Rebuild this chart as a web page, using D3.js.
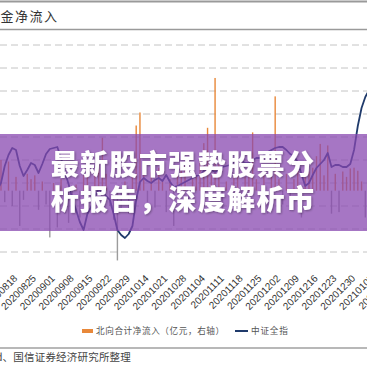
<!DOCTYPE html>
<html>
<head>
<meta charset="utf-8">
<script src="https://cdn.jsdelivr.net/npm/d3@7"></script>
<style>
  html, body { margin: 0; padding: 0; background: #fff; }
  svg { display: block; }
</style>
</head>
<body>
<div id="chart"></div>
<script>
// trading days, the picture is cropped so both ends run off the page
const days = [
  "20200811","20200812","20200813","20200814","20200817",
  "20200818","20200819","20200820","20200821","20200824",
  "20200825","20200826","20200827","20200828","20200831",
  "20200901","20200902","20200903","20200904","20200907",
  "20200908","20200909","20200910","20200911","20200914",
  "20200915","20200916","20200917","20200918","20200921",
  "20200922","20200923","20200924","20200925","20200928",
  "20200929","20200930","20201009","20201012","20201013",
  "20201014","20201015","20201016","20201019","20201020",
  "20201021","20201022","20201023","20201026","20201027",
  "20201028","20201029","20201030","20201102","20201103",
  "20201104","20201105","20201106","20201109","20201110",
  "20201111","20201112","20201113","20201116","20201117",
  "20201118","20201119","20201120","20201123","20201124",
  "20201125","20201126","20201127","20201130","20201201",
  "20201202","20201203","20201204","20201207","20201208",
  "20201209","20201210","20201211","20201214","20201215",
  "20201216","20201217","20201218","20201221","20201222",
  "20201223","20201224","20201225","20201228","20201229",
  "20201230","20201231","20210104","20210105","20210106",
  "20210107","20210108","20210111","20210112","20210113",
  "20210114"
];

// 中证全指 (left axis)
const csiAll = [
  5310, 5352, 5454, 5520, 5562,
  5550, 5454, 5394, 5430, 5472,
  5460, 5412, 5466, 5526, 5556,
  5562, 5568, 5502, 5418, 5346,
  5256, 5190, 5118, 5070, 5166,
  5208, 5268, 5316, 5298, 5274,
  5250, 5166, 5070, 5040, 5022,
  5046, 5094, 5250, 5358, 5382,
  5364, 5352, 5370, 5382, 5364,
  5400, 5358, 5328, 5334, 5346,
  5358, 5370, 5382, 5394, 5400,
  5424, 5442, 5430, 5418, 5430,
  5448, 5454, 5460, 5478, 5490,
  5484, 5472, 5472, 5490, 5502,
  5502, 5520, 5538, 5550, 5562,
  5568, 5568, 5550, 5526, 5514,
  5478, 5406, 5334, 5352, 5400,
  5442, 5466, 5490, 5532, 5448,
  5460, 5460, 5448, 5448, 5466,
  5550, 5694, 5802, 5868, 5910,
  5946, 5980, 6010, 6030, 6050,
  6070
];

// 北向合计净流入 (亿元, right axis)
const northFlow = [
   25,  40, -15,  38, -20,
   18, -46, -12,  22,  15,
   20, -25,  12, -18, -61,
   10, -48,  15, -30, -42,
  -22,   8, -35,  20,  30,
  -15,  25,  35,  69,  22,
  -20, -38, -91, -25,  12,
  -30,  18,  85, 102,  28,
  -15,  24, -22,  30,  12,
  -28,  15, -46,  20,  26,
   32, -18,  28,  18,  40,
   62,  82,  20, 147,  35,
  -25,  12, -20,  22,  30,
  -15,  18,  25,  76,  15,
  -22,  20, -30,  28, 123,
   15, -18,  22, -26,  15,
   39, -35,  18,  25,  30,
   45,  61,  20,  59, -30,
   22, -28,  25,  18,  29,
   30,  26,  12, -35,  20,
   30,  25, -20,  35,  15,
   20
];

const leftGrid = [4938, 5076, 5214, 5352, 5490, 5628, 5766, 5904, 6042, 6180];
const labelEvery = 5;
const legendItems = ["北向合计净流入（亿元，右轴）", "中证全指"];

const width = 367, height = 367;
const step = 3.756;
const x0 = 16; // 20200818

const x = d3.scalePoint(days, [x0 - 5 * step, x0 + (days.length - 6) * step]);
const yL = d3.scaleLinear([4800, 6180], [275, 45]);
const yR = d3.scaleLinear([-110, 190], [275, 45]);

const svg = d3.select("#chart")
  .append("svg")
  .attr("width", width)
  .attr("height", height);

const defs = svg.append("defs");
defs.append("filter")
  .attr("id", "shadow")
  .attr("x", "-10%").attr("y", "-10%")
  .attr("width", "120%").attr("height", "130%")
  .append("feDropShadow")
  .attr("dx", 1).attr("dy", 1)
  .attr("stdDeviation", 1)
  .attr("flood-color", "#000")
  .attr("flood-opacity", 0.35);

// frame lines
svg.append("line")
  .attr("x1", 0).attr("x2", width)
  .attr("y1", 1.5).attr("y2", 1.5)
  .attr("stroke", "#9a9a9a").attr("stroke-width", 2);
svg.append("line")
  .attr("x1", 0).attr("x2", width)
  .attr("y1", 29.5).attr("y2", 29.5)
  .attr("stroke", "#9a9a9a").attr("stroke-width", 1.6);
svg.append("line")
  .attr("x1", 0).attr("x2", width)
  .attr("y1", 348).attr("y2", 348)
  .attr("stroke", "#a0a0a0").attr("stroke-width", 1.5);

svg.append("text")
  .attr("x", -43)
  .attr("y", 16)
  .attr("dy", "0.35em")
  .attr("font-family", "'Noto Sans CJK SC', sans-serif")
  .attr("font-size", 13)
  .attr("letter-spacing", 1.5)
  .attr("fill", "#333")
  .text("北向资金净流入");

svg.append("text")
  .attr("x", 131)
  .attr("y", 357)
  .attr("dy", "0.35em")
  .attr("text-anchor", "end")
  .attr("font-family", "'Noto Sans CJK SC', sans-serif")
  .attr("font-size", 10.5)
  .attr("letter-spacing", 0.2)
  .attr("fill", "#444")
  .text("资料来源：Wind、国信证券经济研究所整理");

// gridlines
svg.append("g")
  .attr("stroke", "#c4c4c4")
  .attr("stroke-dasharray", "7,4")
  .selectAll("line")
  .data(leftGrid)
  .join("line")
  .attr("x1", 0).attr("x2", width)
  .attr("y1", d => yL(d)).attr("y2", d => yL(d));

// bars
svg.append("g")
  .selectAll("rect")
  .data(days.map((d, i) => ({day: d, v: northFlow[i]})))
  .join("rect")
  .attr("x", d => x(d.day) - 0.7)
  .attr("width", 1.4)
  .attr("y", d => Math.min(yR(d.v), yR(0)))
  .attr("height", d => Math.abs(yR(d.v) - yR(0)))
  .attr("fill", d => d.v >= 0 ? "#e8883a" : "#9c9c9c");

// line
svg.append("path")
  .datum(days.map((d, i) => ({day: d, v: csiAll[i]})))
  .attr("fill", "none")
  .attr("stroke", "#1f3a6b")
  .attr("stroke-width", 1.8)
  .attr("stroke-linejoin", "round")
  .attr("d", d3.line().x(d => x(d.day)).y(d => yL(d.v)));

// x labels
svg.append("g")
  .attr("font-family", "'Liberation Sans', Arial, sans-serif")
  .attr("font-size", 10)
  .attr("fill", "#333")
  .selectAll("text")
  .data(days.filter((d, i) => i % labelEvery === 0))
  .join("text")
  .attr("text-anchor", "end")
  .attr("transform", d => `translate(${x(d) + 2},${279}) rotate(-45)`)
  .text(d => d);

// legend
const legend = svg.append("g")
  .attr("font-family", "'Noto Sans CJK SC', sans-serif")
  .attr("font-size", 8.6)
  .attr("fill", "#555");
legend.append("rect")
  .attr("x", 82).attr("y", 329)
  .attr("width", 11).attr("height", 4)
  .attr("fill", "#e8883a");
legend.append("text")
  .attr("x", 96).attr("y", 331)
  .attr("dy", "0.35em")
  .attr("letter-spacing", 0.6)
  .text(legendItems[0]);
legend.append("line")
  .attr("x1", 235).attr("x2", 248)
  .attr("y1", 331).attr("y2", 331)
  .attr("stroke", "#1f3a6b").attr("stroke-width", 2);
legend.append("text")
  .attr("x", 251).attr("y", 331)
  .attr("dy", "0.35em")
  .attr("letter-spacing", 0.8)
  .text(legendItems[1]);

// banner over the chart
svg.append("rect")
  .attr("x", 0).attr("y", 134)
  .attr("width", width).attr("height", 97)
  .attr("fill", "rgb(136,72,176)")
  .attr("fill-opacity", 0.75);

svg.append("g")
  .attr("font-family", "'Noto Sans CJK SC', sans-serif")
  .attr("font-weight", 900)
  .attr("font-size", 28)
  .attr("letter-spacing", 1.4)
  .attr("fill", "#fff")
  .attr("text-anchor", "middle")
  .attr("filter", "url(#shadow)")
  .selectAll("text")
  .data(["最新股市强势股票分", "析报告，深度解析市"])
  .join("text")
  .attr("x", 183)
  .attr("y", (d, i) => 165 + i * 35)
  .attr("dy", "0.35em")
  .text(d => d);
</script>
</body>
</html>
